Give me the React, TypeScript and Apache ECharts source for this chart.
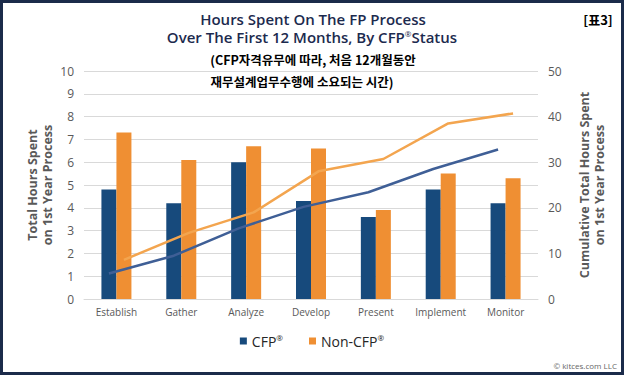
import React, { useEffect, useRef } from "react";
import * as echarts from "echarts";

const categories = ["Establish", "Gather", "Analyze", "Develop", "Present", "Implement", "Monitor"];
const cfpHours = [4.8, 4.2, 6.0, 4.3, 3.6, 4.8, 4.2];
const nonCfpHours = [7.3, 6.1, 6.7, 6.6, 3.9, 5.5, 5.3];
const cfpCumulative = [5.6, 9.5, 15.5, 20.2, 23.4, 28.5, 32.8];
const nonCfpCumulative = [8.6, 14.5, 19.0, 28.0, 30.7, 38.5, 40.7];
const leftTicks = { min: 0, max: 10, interval: 1 };
const rightTicks = { min: 0, max: 50, interval: 10 };

const GRID_LEFT = 84;
const GRID_RIGHT = 86;
const BAR_W = 15;

export default function App() {
  const ref = useRef<HTMLDivElement>(null);
  useEffect(() => {
    document.body.style.margin = "0";
    const chart = echarts.init(ref.current!, null, { renderer: "svg" });
    const plotW = 624 - GRID_LEFT - GRID_RIGHT;
    const band = plotW / categories.length;
    const off = BAR_W / 2 / band;
    const font = "'Open Sans', sans-serif";
    const nameStyle = { fontFamily: font, fontSize: 12.5, fontWeight: "bold", color: "#595959", lineHeight: 15 };
    chart.setOption({
      animation: false,
      backgroundColor: "#ffffff",
      grid: { left: GRID_LEFT, right: GRID_RIGHT, top: 71, bottom: 77, containLabel: false },
      legend: {
        data: ["CFP®", "Non-CFP®"],
        left: "center",
        top: 328,
        icon: "rect",
        itemWidth: 7,
        itemHeight: 7,
        itemGap: 26,
        formatter: (n: string) => n.replace("®", "{s|®}"),
        textStyle: {
          fontFamily: font,
          fontSize: 14,
          color: "#262626",
          rich: { s: { fontSize: 8, fontFamily: font, color: "#262626", verticalAlign: "top", padding: [0, 0, 8, 0] } },
        },
      },
      xAxis: [
        {
          type: "category",
          data: categories,
          axisLine: { show: true, lineStyle: { color: "#d9d9d9", width: 1 } },
          axisTick: { show: false },
          axisLabel: { interval: 0, fontFamily: font, fontSize: 10, color: "#595959", margin: 8 },
        },
        { type: "value", min: -0.5, max: 6.5, show: false },
      ],
      yAxis: [
        {
          type: "value",
          ...leftTicks,
          name: "Total Hours Spent\non 1st Year Process",
          nameLocation: "middle",
          nameGap: 29,
          nameMoveOverlap: false,
          nameTextStyle: nameStyle,
          axisLine: { show: false },
          axisTick: { show: false },
          axisLabel: { fontFamily: font, fontSize: 12, color: "#595959", margin: 10 },
          splitLine: { lineStyle: { color: "#d9d9d9", width: 1 } },
        },
        {
          type: "value",
          ...rightTicks,
          name: "Cumulative Total Hours Spent\non 1st Year Process",
          nameLocation: "middle",
          nameGap: 39,
          nameMoveOverlap: false,
          nameTextStyle: nameStyle,
          axisLine: { show: false },
          axisTick: { show: false },
          axisLabel: { fontFamily: font, fontSize: 12, color: "#595959", margin: 10 },
          splitLine: { show: false },
        },
      ],
      series: [
        {
          name: "CFP®",
          type: "bar",
          data: cfpHours,
          barWidth: BAR_W,
          barGap: "0%",
          itemStyle: { color: "#174a7c" },
        },
        {
          name: "Non-CFP®",
          type: "bar",
          data: nonCfpHours,
          barWidth: BAR_W,
          barGap: "0%",
          itemStyle: { color: "#ef8f33" },
        },
        {
          name: "CFP cumulative",
          type: "line",
          xAxisIndex: 1,
          yAxisIndex: 1,
          data: cfpCumulative.map((v, i) => [i - off, v]),
          symbol: "none",
          lineStyle: { color: "#3f5f96", width: 2.5 },
        },
        {
          name: "Non-CFP cumulative",
          type: "line",
          xAxisIndex: 1,
          yAxisIndex: 1,
          data: nonCfpCumulative.map((v, i) => [i + off, v]),
          symbol: "none",
          lineStyle: { color: "#f3a54f", width: 2.5 },
        },
      ],
      graphic: [
        {
          type: "rect",
          shape: { x: 1.5, y: 1.5, width: 621, height: 372 },
          style: { fill: "none", stroke: "#1b2b4a", lineWidth: 3 },
          z: 100,
        },
        {
          type: "text",
          x: 313,
          y: 19,
          style: {
            text: "Hours Spent On The FP Process",
            fontFamily: font,
            fontSize: 15,
            fontWeight: 600,
            fill: "#1c2a4e",
            textAlign: "center",
            textVerticalAlign: "middle",
          },
        },
        {
          type: "text",
          x: 312,
          y: 37,
          style: {
            text: "Over The First 12 Months, By CFP{s|®}Status",
            rich: { s: { fontSize: 8, verticalAlign: "top", fontFamily: font, fill: "#1c2a4e", padding: [0, 0, 6, 0] } },
            fontFamily: font,
            fontSize: 15,
            fontWeight: 600,
            fill: "#1c2a4e",
            textAlign: "center",
            textVerticalAlign: "middle",
          },
        },
        {
          type: "text",
          x: 313,
          y: 59,
          style: {
            text: "(CFP자격유무에 따라, 처음 12개월동안",
            fontFamily: "'Noto Sans CJK KR', sans-serif",
            fontSize: 12.5,
            fontWeight: "bold",
            fill: "#000000",
            textAlign: "center",
            textVerticalAlign: "middle",
          },
        },
        {
          type: "text",
          x: 302,
          y: 81,
          style: {
            text: "재무설계업무수행에 소요되는 시간)",
            fontFamily: "'Noto Sans CJK KR', sans-serif",
            fontSize: 12.5,
            fontWeight: "bold",
            fill: "#000000",
            textAlign: "center",
            textVerticalAlign: "middle",
          },
        },
        {
          type: "text",
          x: 598,
          y: 19,
          style: {
            text: "[표3]",
            fontFamily: "'Noto Sans CJK KR', sans-serif",
            fontSize: 13,
            fontWeight: "bold",
            fill: "#000000",
            textAlign: "center",
            textVerticalAlign: "middle",
          },
        },
        {
          type: "text",
          x: 617,
          y: 365,
          style: {
            text: "© kitces.com LLC",
            fontFamily: font,
            fontSize: 8,
            fill: "#666666",
            textAlign: "right",
            textVerticalAlign: "middle",
          },
        },
      ],
    });
    return () => chart.dispose();
  }, []);
  return <div ref={ref} style={{ position: "absolute", left: 0, top: 0, width: 624, height: 376 }} />;
}
